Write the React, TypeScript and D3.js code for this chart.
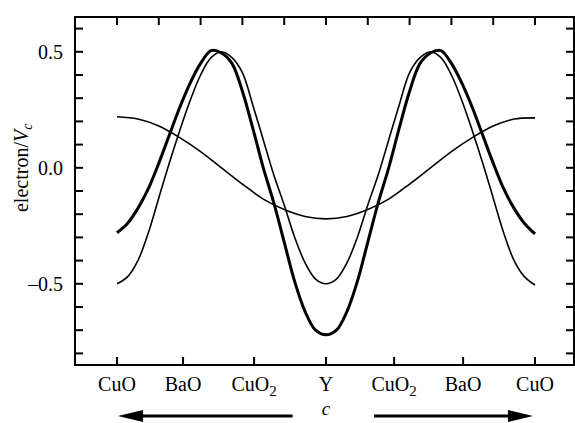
import React from "react";
import * as d3 from "d3";

// positions along c (fraction of the cell)
const cPos = [
  0, 0.025, 0.05, 0.075, 0.1, 0.125, 0.15, 0.175, 0.2, 0.225, 0.25, 0.275, 0.3, 0.325, 0.35, 0.375, 0.4,
  0.425, 0.45, 0.475, 0.5, 0.525, 0.55, 0.575, 0.6, 0.625, 0.65, 0.675, 0.7, 0.725, 0.75, 0.775, 0.8,
  0.825, 0.85, 0.875, 0.9, 0.925, 0.95, 0.975, 1,
];

const thickSeries = [
  -0.28, -0.24, -0.175, -0.09, 0.02, 0.14, 0.26, 0.365, 0.45, 0.505, 0.495, 0.45, 0.33, 0.17, 0.0, -0.15,
  -0.32, -0.49, -0.62, -0.7, -0.72, -0.7, -0.62, -0.49, -0.32, -0.15, 0.0, 0.17, 0.33, 0.45, 0.495, 0.505,
  0.45, 0.365, 0.26, 0.14, 0.02, -0.09, -0.175, -0.24, -0.285,
];

const thinSeries = [
  -0.5, -0.47, -0.4, -0.28, -0.13, 0.02, 0.16, 0.29, 0.4, 0.475, 0.5, 0.475, 0.41, 0.27, 0.12, -0.03,
  -0.16, -0.3, -0.41, -0.48, -0.5, -0.48, -0.41, -0.3, -0.16, -0.03, 0.12, 0.27, 0.41, 0.475, 0.5, 0.475,
  0.4, 0.29, 0.16, 0.02, -0.13, -0.28, -0.4, -0.47, -0.505,
];

const cosPos = [
  0, 0.05, 0.1, 0.15, 0.2, 0.25, 0.3, 0.35, 0.4, 0.45, 0.5, 0.55, 0.6, 0.65, 0.7, 0.75, 0.8, 0.85, 0.9, 0.95, 1,
];
const cosSeries = [
  0.22, 0.21, 0.18, 0.13, 0.07, 0.0, -0.07, -0.135, -0.18, -0.21, -0.22, -0.21, -0.18, -0.135, -0.07, 0.0,
  0.07, 0.13, 0.18, 0.21, 0.215,
];

const layerNames = ["CuO", "BaO", "CuO2", "Y", "CuO2", "BaO", "CuO"];
const layerPos = [0, 0.158, 0.328, 0.5, 0.663, 0.828, 1];
const topTicks = [0, 0.1, 0.2, 0.3, 0.4, 0.5, 0.6, 0.7, 0.8, 0.9, 1];
const yTicks = [-0.8, -0.7, -0.6, -0.5, -0.4, -0.3, -0.2, -0.1, 0, 0.1, 0.2, 0.3, 0.4, 0.5, 0.6];
const yLabels = [-0.5, 0, 0.5];

const W = 575;
const H = 423;
const frame = { left: 75, right: 574, top: 17, bottom: 365 };
const font = "'Liberation Serif', 'Times New Roman', serif";

const App = () => {
  const x = d3.scaleLinear().domain([0, 1]).range([117, 535]);
  const y = d3.scaleLinear().domain([-0.85, 0.65]).range([frame.bottom, frame.top]);

  const line = d3
    .line<[number, number]>()
    .x((d) => x(d[0]))
    .y((d) => y(d[1]))
    .curve(d3.curveCatmullRom.alpha(0.5));

  const thick = line(cPos.map((c, i) => [c, thickSeries[i]]));
  const thin = line(cPos.map((c, i) => [c, thinSeries[i]]));
  const cosl = line(cosPos.map((c, i) => [c, cosSeries[i]]));

  const tl = 8;
  const arrowY = 416;
  const head = (tip: number, dir: number) =>
    `M${tip},${arrowY} L${tip - dir * 25},${arrowY - 6} L${tip - dir * 25},${arrowY + 6} Z`;

  return (
    <svg
      width={W}
      height={H}
      style={{ position: "absolute", left: 0, top: 0, background: "#fff" }}
      fontFamily={font}
    >
      <rect
        x={frame.left}
        y={frame.top}
        width={frame.right - frame.left}
        height={frame.bottom - frame.top}
        fill="none"
        stroke="#000"
        strokeWidth={2}
      />
      {yTicks.map((t) => (
        <g key={"y" + t}>
          <line x1={frame.left} x2={frame.left + tl} y1={y(t)} y2={y(t)} stroke="#000" strokeWidth={2} />
          <line x1={frame.right - tl} x2={frame.right} y1={y(t)} y2={y(t)} stroke="#000" strokeWidth={2} />
        </g>
      ))}
      {topTicks.map((t) => (
        <line key={"t" + t} x1={x(t)} x2={x(t)} y1={frame.top} y2={frame.top + tl} stroke="#000" strokeWidth={2} />
      ))}
      {layerPos.map((t, i) => (
        <line key={"b" + i} x1={x(t)} x2={x(t)} y1={frame.bottom - tl} y2={frame.bottom} stroke="#000" strokeWidth={2} />
      ))}
      {yLabels.map((t) => (
        <text key={"yl" + t} x={63} y={y(t)} dy="0.35em" textAnchor="end" fontSize={20}>
          {t < 0 ? "\u2013" + Math.abs(t).toFixed(1) : t.toFixed(1)}
        </text>
      ))}
      {layerNames.map((n, i) => (
        <text key={"ln" + i} x={x(layerPos[i])} y={391} textAnchor="middle" fontSize={20}>
          {n.endsWith("2") ? (
            <>
              CuO
              <tspan fontSize={15} dy={5}>
                2
              </tspan>
            </>
          ) : (
            n
          )}
        </text>
      ))}
      <text
        transform={`translate(28, ${y(0)}) rotate(-90)`}
        textAnchor="middle"
        fontSize={20}
      >
        electron/
        <tspan fontStyle="italic">V</tspan>
        <tspan fontStyle="italic" fontSize={14} dy={4}>
          c
        </tspan>
      </text>
      <text x={x(0.5)} y={415} textAnchor="middle" fontSize={19} fontStyle="italic">
        c
      </text>
      <line x1={x(0.42)} x2={x(0) + 20} y1={arrowY} y2={arrowY} stroke="#000" strokeWidth={3} />
      <path d={head(x(0) + 1, -1)} fill="#000" />
      <line x1={x(0.615)} x2={x(0.995) - 20} y1={arrowY} y2={arrowY} stroke="#000" strokeWidth={3} />
      <path d={head(x(0.995), 1)} fill="#000" />
      <path d={cosl ?? ""} fill="none" stroke="#000" strokeWidth={1.6} />
      <path d={thin ?? ""} fill="none" stroke="#000" strokeWidth={1.6} />
      <path d={thick ?? ""} fill="none" stroke="#000" strokeWidth={3} />
    </svg>
  );
};

export default App;
